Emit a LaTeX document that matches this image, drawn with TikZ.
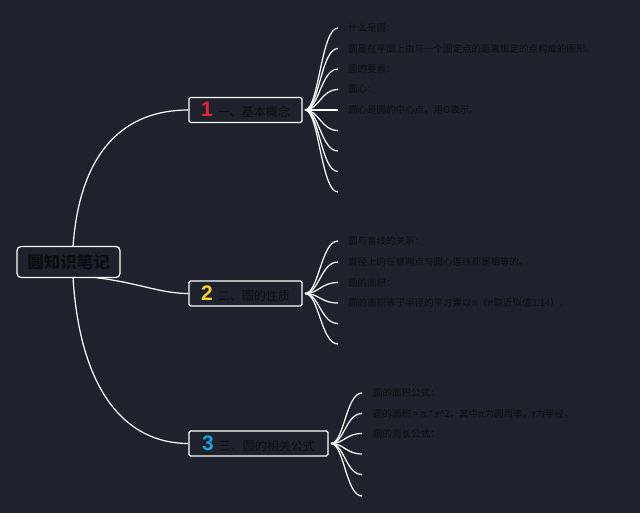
\documentclass[tikz,border=0pt]{standalone}
\usepackage{fontspec}
\setmainfont{Noto Sans CJK SC}
\newfontfamily\numfont{Liberation Sans}
\definecolor{bgc}{HTML}{1F222C}
\definecolor{txc}{HTML}{0B0D11}
\definecolor{nred}{HTML}{E3243B}
\definecolor{nyel}{HTML}{F6D132}
\definecolor{nblu}{HTML}{1E9FE2}
\newcommand\bignum[2]{{\numfont\fontsize{21}{21}\selectfont\bfseries\color{#1}#2}}
\tikzset{
  conn/.style={draw=white, line width=1.2pt},
  topicbox/.style={draw=white, line width=1.2pt, rounded corners=1.5pt, minimum height=25pt, inner sep=0pt, text=txc, font=\fontsize{12}{13}\selectfont},
  rootbox/.style={draw=white, line width=1.2pt, rounded corners=4pt, minimum width=103pt, minimum height=31pt, inner sep=0pt, text=txc, font=\fontsize{16.5}{18}\selectfont\bfseries},
  leaftext/.style={anchor=west, inner sep=0pt, text=txc, font=\fontsize{9.5}{10}\selectfont}
}
\begin{document}
\begin{tikzpicture}[x=1pt,y=-1pt]
\fill[bgc] (0,0) rectangle (640,513);
\useasboundingbox (0,0) rectangle (640,513);

\node[rootbox] (root) at (68.5,262) {圆知识笔记};
\node[topicbox, minimum width=113pt] (t1) at (245.5,110) {\bignum{nred}{1}\hspace{5pt}一、基本概念};
\node[topicbox, minimum width=113pt] (t2) at (245.5,293.5) {\bignum{nyel}{2}\hspace{5pt}二、圆的性质};
\node[topicbox, minimum width=139pt] (t3) at (258.5,443.5) {\bignum{nblu}{3}\hspace{5pt}三、圆的相关公式};

\coordinate (r1) at (73,246.5);
\coordinate (r3) at (73,277.5);
\coordinate (r2) at (95,277.5);
\draw[conn] (r1) .. controls (80,150) and (125,110) .. (t1.west);
\draw[conn] (r2) .. controls (140,283) and (160,293.5) .. (t2.west);
\draw[conn] (r3) .. controls (80,390) and (125,443.5) .. (t3.west);

% branch 1
\coordinate (h1) at (305,110);
\foreach \y [count=\i] in {28,48.5,69,89.5,110,130.5,151,171.5,192}{
  \coordinate (l1-\i) at (338,\y);
  \draw[conn] (h1) .. controls (319,110) and (321,\y) .. (l1-\i);
}
\node[leaftext] (a1) at (348,28) {什么是圆：};
\node[leaftext] (a2) at (348,48.5) {圆是在平面上由与一个固定点的距离恒定的点构成的图形。};
\node[leaftext] (a3) at (348,69) {圆的要素：};
\node[leaftext] (a4) at (348,89.5) {圆心：};
\node[leaftext] (a5) at (348,110) {圆心是圆的中心点，用O表示。};

% branch 2
\coordinate (h2) at (305,293.5);
\foreach \y [count=\i] in {241,262,282.5,303,323.5,344}{
  \coordinate (l2-\i) at (338,\y);
  \draw[conn] (h2) .. controls (319,293.5) and (321,\y) .. (l2-\i);
}
\node[leaftext] (b1) at (348,241) {圆与直线的关系：};
\node[leaftext] (b2) at (348,262) {直径上的任意两点与圆心连线都是相等的。};
\node[leaftext] (b3) at (348,282.5) {圆的面积：};
\node[leaftext] (b4) at (348,303) {圆的面积等于半径的平方乘以π（π取近似值3.14）。};

% branch 3
\coordinate (h3) at (331,443.5);
\foreach \y [count=\i] in {393,413.5,433.5,454,474.5,496}{
  \coordinate (l3-\i) at (362,\y);
  \draw[conn] (h3) .. controls (344,443.5) and (346,\y) .. (l3-\i);
}
\node[leaftext] (c1) at (373,393) {圆的面积公式：};
\node[leaftext] (c2) at (373,413.5) {圆的面积 = π * r\textasciicircum 2，其中π为圆周率，r为半径。};
\node[leaftext] (c3) at (373,433.5) {圆的周长公式：};
\end{tikzpicture}
\end{document}
